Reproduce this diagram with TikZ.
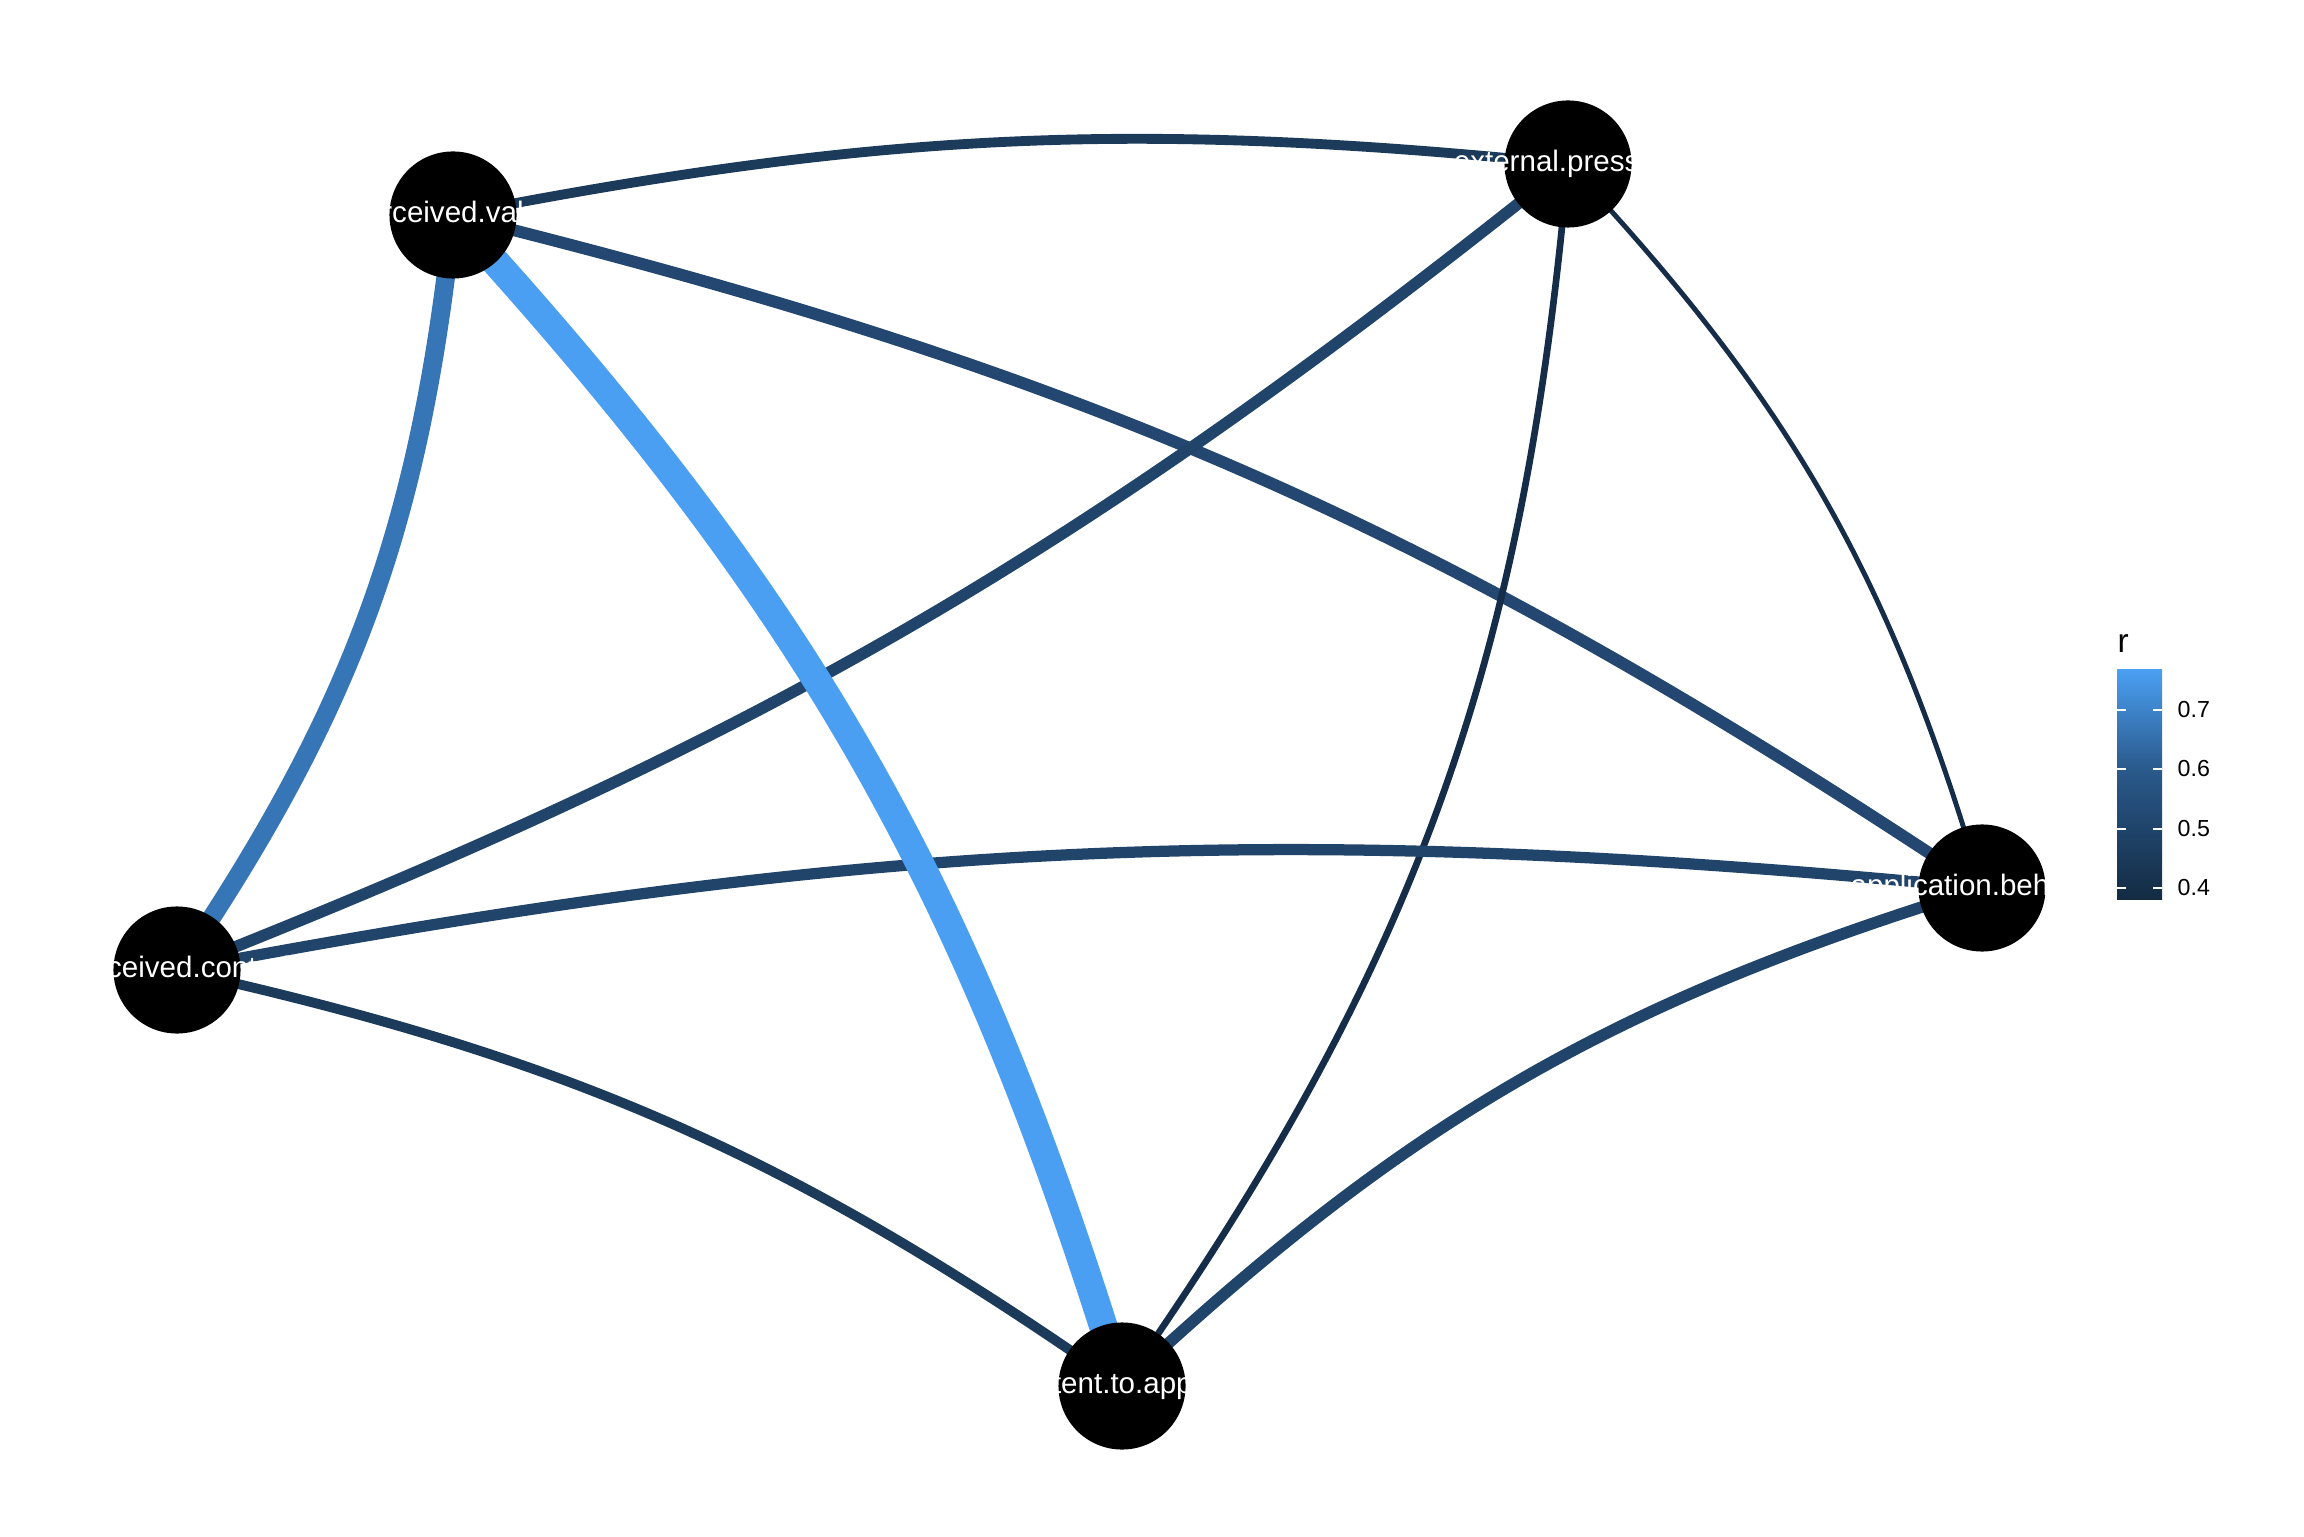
\documentclass[tikz,border=0pt]{standalone}
\usepackage{fontspec}
\setmainfont{Liberation Sans}
\usetikzlibrary{backgrounds}
\definecolor{rlow}{HTML}{132B43}
\definecolor{rmid}{HTML}{2A5A8C}
\definecolor{rhigh}{HTML}{4A9FF2}
\definecolor{cpc}{HTML}{3776B6}
\definecolor{cfive}{HTML}{21446A}
\definecolor{cfivb}{HTML}{234770}
\definecolor{cfour}{HTML}{1C3A5A}
\definecolor{cthree}{HTML}{152D48}
\begin{document}
\begin{tikzpicture}[x=0.01cm,y=0.01cm,
  vnode/.style={circle, fill=black, minimum size=1.27cm, inner sep=0pt, text=white,
    font=\fontsize{8.4}{9}\selectfont},
  edgeline/.style={line cap=butt},
  legtext/.style={inner sep=0pt, font=\fontsize{6.6}{8}\selectfont},
  tickline/.style={white, line width=0.4pt}]
\useasboundingbox (0,0) rectangle (2304,1536);

\node[vnode] (pv)  at (453,1321) {\makebox[0pt]{perceived.value}};
\node[vnode] (ep)  at (1568,1372) {\makebox[0pt]{external.pressure}};
\node[vnode] (pc)  at (177,566) {\makebox[0pt]{perceived.control}};
\node[vnode] (ita) at (1122,150) {\makebox[0pt]{intent.to.apply}};
\node[vnode] (ab)  at (1982,648) {\makebox[0pt]{application.behavior}};

\begin{pgfonlayer}{background}
\draw[edgeline, cfour, line width=2.8pt] (pv.center) to[bend left=8.4] (ep.center);
\draw[edgeline, cfivb, line width=3.4pt] (pv.center) to[bend left=9.9] (ab.center);
\draw[edgeline, cfive, line width=3.3pt] (ep.center) to[bend left=8.6] (pc.center);
\draw[edgeline, cthree, line width=1.9pt] (ep.center) to[bend left=15] (ita.center);
\draw[edgeline, cthree, line width=1.4pt] (ep.center) to[bend left=13.4] (ab.center);
\draw[edgeline, cfive, line width=3.2pt] (pc.center) to[bend left=8.1] (ab.center);
\draw[edgeline, cfour, line width=2.8pt] (pc.center) to[bend left=11.2] (ita.center);
\draw[edgeline, cfive, line width=3.3pt] (ita.center) to[bend left=13] (ab.center);
\draw[edgeline, cpc, line width=5.3pt] (pv.center) to[bend left=14] (pc.center);
\draw[edgeline, rhigh, line width=8.1pt] (pv.center) to[bend left=12.7] (ita.center);
\end{pgfonlayer}

% legend
\node[inner sep=0pt, anchor=base west, font=\fontsize{9.5}{11}\selectfont] (rtitle) at (2117,883) {r};
\shade[bottom color=rlow, top color=rmid] (2117,636) rectangle (2162,767.5);
\shade[bottom color=rmid, top color=rhigh] (2117,767) rectangle (2162,866);
\foreach \yy in {648,707,767,826}{
  \draw[tickline] (2117,\yy) -- (2126,\yy);
  \draw[tickline] (2153,\yy) -- (2162,\yy);
}
\node[legtext, anchor=west] (l7) at (2177,826) {0.7};
\node[legtext, anchor=west] (l6) at (2177,767) {0.6};
\node[legtext, anchor=west] (l5) at (2177,707) {0.5};
\node[legtext, anchor=west] (l4) at (2177,648) {0.4};
\end{tikzpicture}
\end{document}
